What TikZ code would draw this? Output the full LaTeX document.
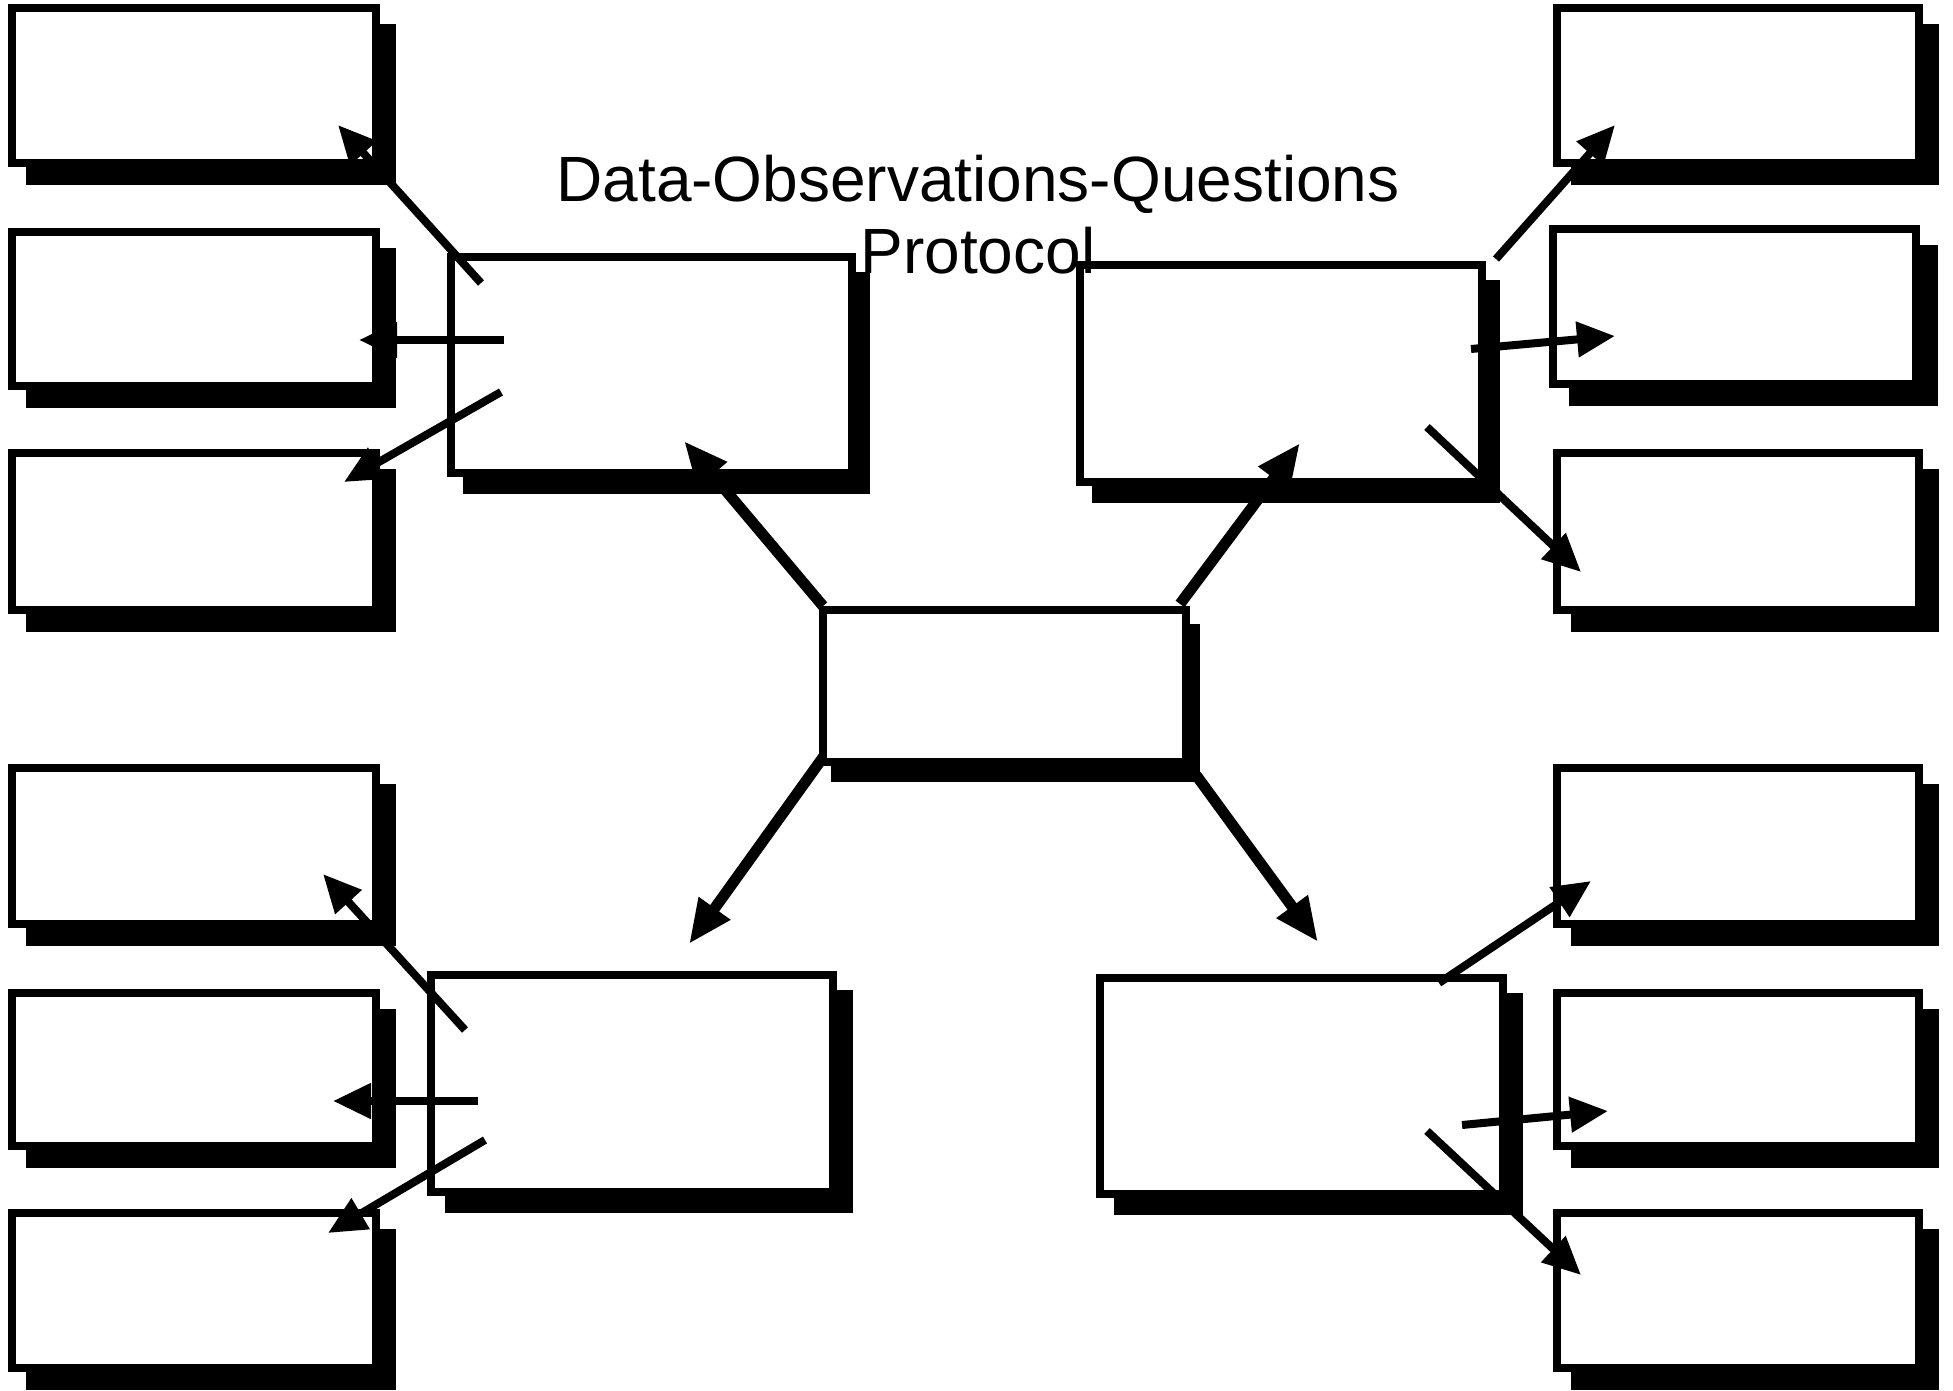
\documentclass[tikz,border=0pt]{standalone}
\usepackage{fontspec}
\setmainfont{Liberation Sans}
\usetikzlibrary{arrows.meta,fit}
\tikzset{
  boxstyle/.style={draw=black, line width=3.8pt, fill=white, inner sep=0pt, outer sep=0pt},
  shadowstyle/.style={fill=black},
  bigarrow/.style={line width=5.5pt, -{Triangle[length=22pt,width=18pt]}},
  smallarrow/.style={line width=4pt, -{Triangle[length=19pt,width=17pt]}},
  titlestyle/.style={font=\fontsize{32}{38}\selectfont, align=center, inner sep=0pt}
}
% name, x1, y1, x2, y2, shadow dx, shadow dy
\newcommand\shadowedbox[7]{%
  \fill[shadowstyle] (#2+#6-3,#3+#7-3) rectangle (#4+#6+3,#5+#7+3);
  \node[boxstyle, fit={(#2,#3)(#4,#5)}] (#1) {};}
\begin{document}
\begin{tikzpicture}[x=0.5pt,y=-0.5pt]
\useasboundingbox (0,0) rectangle (1953,1391);
% left column
\shadowedbox{L1}{12}{8}{376}{163}{17}{19}
\shadowedbox{L2}{12}{232}{376}{386}{17}{19}
\shadowedbox{L3}{12}{453}{376}{610}{17}{19}
\shadowedbox{L4}{12}{768}{376}{924}{17}{19}
\shadowedbox{L5}{12}{993}{376}{1146}{17}{19}
\shadowedbox{L6}{12}{1213}{376}{1368}{17}{19}
% right column
\shadowedbox{R1}{1557}{8}{1919}{163}{17}{19}
\shadowedbox{R2}{1553}{229}{1916}{384}{19}{19}
\shadowedbox{R3}{1557}{453}{1919}{610}{17}{19}
\shadowedbox{R4}{1557}{768}{1919}{924}{17}{19}
\shadowedbox{R5}{1557}{993}{1919}{1146}{17}{19}
\shadowedbox{R6}{1557}{1213}{1919}{1368}{17}{19}
% main boxes
\shadowedbox{UL}{451}{257}{852}{473}{15}{18}
\shadowedbox{UR}{1080}{265}{1482}{482}{15}{18}
\shadowedbox{C}{823}{610}{1186}{762}{11}{17}
\shadowedbox{LL}{431}{975}{833}{1192}{17}{18}
\shadowedbox{LR}{1100}{978}{1503}{1194}{17}{18}
% arrow end points
\coordinate (c1s) at (823,606); \coordinate (c1e) at (684,441);
\coordinate (c2s) at (1180,604); \coordinate (c2e) at (1300,443);
\coordinate (c3s) at (824,756); \coordinate (c3e) at (689,944);
\coordinate (c4s) at (1196,775); \coordinate (c4e) at (1318,942);
\coordinate (a5s) at (481,283); \coordinate (a5e) at (338,125);
\coordinate (a6s) at (504,340); \coordinate (a6e) at (359,340);
\coordinate (a7s) at (501,392); \coordinate (a7e) at (344,482);
\coordinate (a8s) at (1496,259); \coordinate (a8e) at (1615,125);
\coordinate (a9s) at (1471,349); \coordinate (a9e) at (1615,336);
\coordinate (a10s) at (1427,427); \coordinate (a10e) at (1581,572);
\coordinate (a11s) at (465,1030); \coordinate (a11e) at (323,874);
\coordinate (a12s) at (478,1101); \coordinate (a12e) at (333,1101);
\coordinate (a13s) at (485,1140); \coordinate (a13e) at (328,1233);
\coordinate (a14s) at (1439,983); \coordinate (a14e) at (1591,881);
\coordinate (a15s) at (1462,1125); \coordinate (a15e) at (1608,1111);
\coordinate (a16s) at (1427,1131); \coordinate (a16e) at (1581,1275);
% arrows
\draw[bigarrow] (c1s) -- (c1e);
\draw[bigarrow] (c2s) -- (c2e);
\draw[bigarrow] (c3s) -- (c3e);
\draw[bigarrow] (c4s) -- (c4e);
\foreach \i in {5,...,16}{\draw[smallarrow] (a\i s) -- (a\i e);}
% title
\node[titlestyle] (title) at (978,215) {Data-Observations-Questions\\[-2pt]Protocol};
\end{tikzpicture}
\end{document}
